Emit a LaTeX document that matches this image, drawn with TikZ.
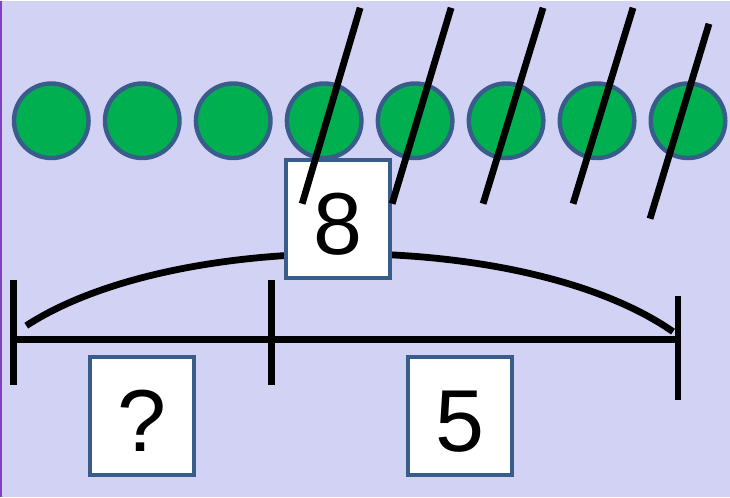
\documentclass[tikz,border=0pt]{standalone}
\usepackage{fontspec}
\setmainfont{Liberation Sans}
\definecolor{snow}{RGB}{210,210,245}
\definecolor{rim}{RGB}{128,64,192}
\definecolor{dotgreen}{RGB}{0,176,80}
\definecolor{edgeblue}{RGB}{56,93,138}
\tikzset{
  dot/.style = {circle, fill=dotgreen, draw=edgeblue, line width=2.2pt, minimum size=37.3pt, inner sep=0pt},
  numbox/.style = {rectangle, fill=white, draw=edgeblue, line width=2pt, minimum width=52pt, minimum height=59pt, inner sep=0pt, text height=35.5pt, text depth=0pt, font=\fontsize{44}{44}\selectfont},
  stroke/.style = {line width=3.4pt, black}
}

\begin{document}
\begin{tikzpicture}[x=0.5pt, y=-0.5pt]
\fill[snow] (0,0) rectangle (730,496);
\draw[rim, line width=0.8pt] (0.5,0) -- (0.5,496);
\useasboundingbox (0,0) rectangle (730,496);

\coordinate (arcL) at (26,325);
\coordinate (arcR) at (673,331);
\draw[stroke] (arcL) .. controls (175,228) and (525,228) .. (arcR);

\path (51,120) node[dot] (c1) {};
\path (142,120) node[dot] (c2) {};
\path (233,120) node[dot] (c3) {};
\path (324,120) node[dot] (c4) {};
\path (415,120) node[dot] (c5) {};
\path (506,120) node[dot] (c6) {};
\path (597,120) node[dot] (c7) {};
\path (688,120) node[dot] (c8) {};

\path (337.5,218) node[numbox] (whole) {8};

\coordinate (s1a) at (360,7);   \coordinate (s1b) at (302,203);
\coordinate (s2a) at (451,7);   \coordinate (s2b) at (392,203);
\coordinate (s3a) at (543,7);   \coordinate (s3b) at (483,203);
\coordinate (s4a) at (633,7);   \coordinate (s4b) at (573,203);
\coordinate (s5a) at (709,23);  \coordinate (s5b) at (650,218);
\draw[stroke] (s1a) -- (s1b);
\draw[stroke] (s2a) -- (s2b);
\draw[stroke] (s3a) -- (s3b);
\draw[stroke] (s4a) -- (s4b);
\draw[stroke] (s5a) -- (s5b);

\coordinate (L) at (13,339);
\coordinate (M) at (271,339);
\coordinate (R) at (678,339);
\draw[stroke] (L) -- (M) -- (R);
\draw[stroke] ([yshift=30pt]L) -- ([yshift=-22.5pt]L);
\draw[stroke] ([yshift=30pt]M) -- ([yshift=-22.5pt]M);
\draw[stroke] ([yshift=22pt]R) -- ([yshift=-30pt]R);

\path (142,415) node[numbox] (part) {?};
\path (459.5,415) node[numbox] (known) {5};
\end{tikzpicture}
\end{document}
